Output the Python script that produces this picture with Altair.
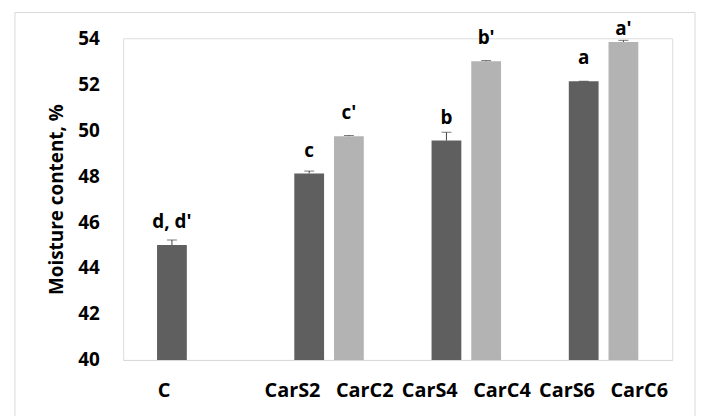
import altair as alt
import pandas as pd

NB = "\u00a0"

# ---- data ----
categories = ["C", "CarS2", "CarC2", "CarS4", "CarC4", "CarS6", "CarC6"]
kind = ["S", "S", "C", "S", "C", "S", "C"]
group_index = [0, 1, 1, 2, 2, 3, 3]
moisture = [45.0, 48.12, 49.74, 49.55, 53.0, 52.13, 53.84]
errors = [0.22, 0.10, 0.03, 0.36, 0.03, 0.0, 0.07]
letters = ["d, d'", "c", "c'", "b", "b'", "a", "a'"]
tick_labels = [
    "C",
    "CarS2" + NB * 3 + "CarC2",
    "CarS4" + NB * 3 + "CarC4",
    "CarS6" + NB * 3 + "CarC6",
]
y_ticks = [40, 42, 44, 46, 48, 50, 52, 54]

df = pd.DataFrame({
    "category": categories,
    "kind": kind,
    "group": [tick_labels[i] for i in group_index],
    "moisture": moisture,
    "err": errors,
    "letter": letters,
})
df["top"] = df["moisture"] + df["err"]

FONT = "Open Sans"
W, H = 553, 324

x_enc = alt.X("group:N", sort=tick_labels,
              scale=alt.Scale(paddingInner=0.4937, paddingOuter=0.24685),
              axis=alt.Axis(title=None, labelAngle=0, ticks=False,
                            domainColor="#d9d9d9", domainWidth=1,
                            labelFont=FONT, labelFontWeight="bold",
                            labelFontSize=20, labelColor="#000000",
                            labelPadding=21,
                            labelOffset={"condition": {"test": "datum.value == 'C'",
                                                       "value": -28},
                                         "value": 0}))
xo_enc = alt.XOffset("kind:N", sort=["S", "C"],
                     scale=alt.Scale(paddingInner=0.25, paddingOuter=0))
y_scale = alt.Scale(domain=[40, 54], nice=False, zero=False)

base = alt.Chart(df)

bars = base.mark_bar().encode(
    x=x_enc,
    xOffset=xo_enc,
    y=alt.Y("moisture:Q", scale=y_scale,
            axis=alt.Axis(values=y_ticks, grid=False, domain=False, ticks=False,
                          labelFont=FONT, labelFontWeight="bold",
                          labelFontSize=19, labelColor="#000000",
                          labelPadding=24,
                          title="Moisture content, %", titleFont=FONT,
                          titleFontWeight="bold", titleFontSize=19,
                          titleColor="#000000", titlePadding=11)),
    y2=alt.datum(40),
    color=alt.Color("kind:N", scale=alt.Scale(domain=["S", "C"],
                                              range=["#5f5f5f", "#b3b3b3"]),
                    legend=None),
)

err_rule = base.mark_rule(color="#404040", strokeWidth=1).encode(
    x=alt.X("group:N", sort=tick_labels),
    xOffset=xo_enc,
    y=alt.Y("moisture:Q", scale=y_scale),
    y2="top:Q",
)

err_cap = base.mark_tick(color="#404040", thickness=1, size=10,
                         orient="horizontal").encode(
    x=alt.X("group:N", sort=tick_labels),
    xOffset=xo_enc,
    y=alt.Y("top:Q", scale=y_scale),
)

letter_text = base.transform_calculate(
    label_y="min(datum.moisture, 53.4)"
).mark_text(font=FONT, fontWeight="bold", fontSize=19,
            color="#000000", baseline="alphabetic", dy=-17).encode(
    x=alt.X("group:N", sort=tick_labels),
    xOffset=xo_enc,
    y=alt.Y("label_y:Q", scale=y_scale),
    text="letter:N",
)

frame = alt.Chart(pd.DataFrame({"f": [0]})).mark_rect(
    fill="transparent", stroke="#d9d9d9", strokeWidth=1
).encode(
    x=alt.value(-109), x2=alt.value(576),
    y=alt.value(-26), y2=alt.value(385),
)

chart = alt.layer(frame, bars, err_rule, err_cap, letter_text).properties(
    width=W, height=H,
    autosize=alt.AutoSizeParams(type="none"),
    padding={"left": 116, "top": 29, "right": 25, "bottom": 60},
).configure_view(stroke=None).configure(background="white")

chart.save("out.html", embed_options={"renderer": "svg", "actions": False})
